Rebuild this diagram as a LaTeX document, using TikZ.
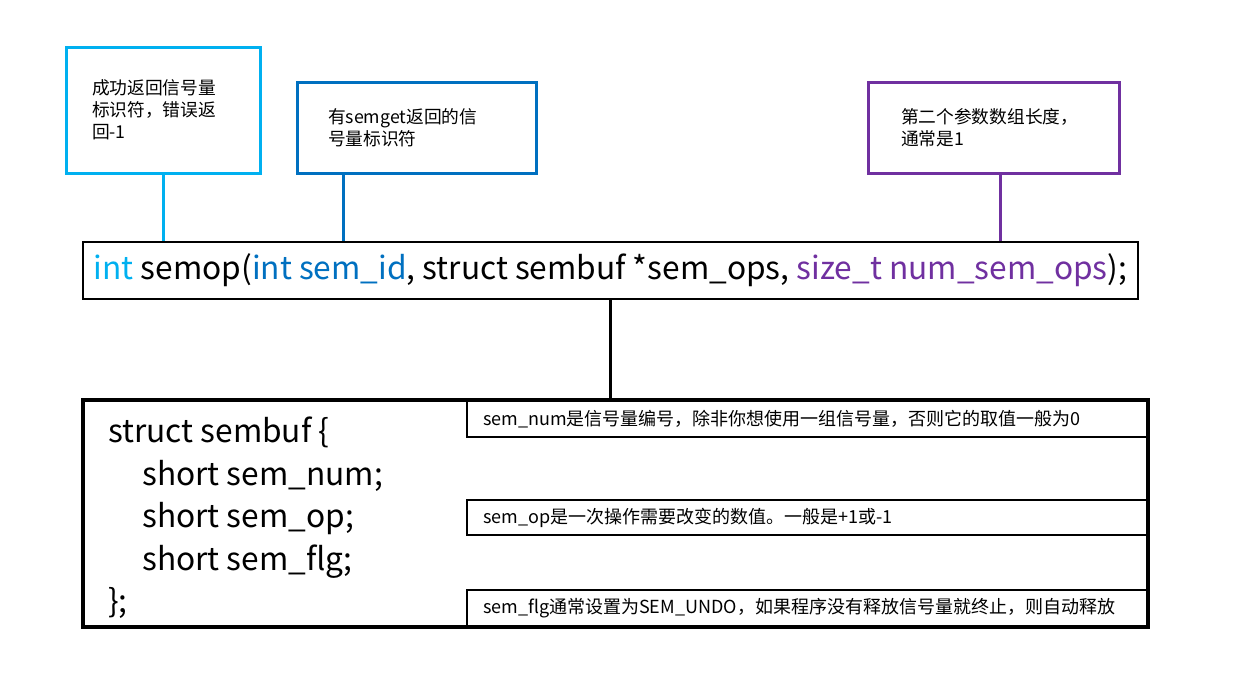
\documentclass[tikz,border=0pt]{standalone}
\usepackage{fontspec}
\setmainfont{Noto Sans CJK SC}
\usetikzlibrary{positioning}

\definecolor{retblue}{RGB}{0,176,240}
\definecolor{idblue}{RGB}{0,112,192}
\definecolor{numpurple}{RGB}{112,48,160}

\tikzset{
  tipbox/.style={draw, line width=2.25pt, align=left, inner ysep=0pt,
    font=\fontsize{13.3}{16.5}\selectfont},
  notebox/.style={draw, line width=1.1pt, align=left, inner xsep=12pt, inner ysep=0pt,
    text width=486pt, font=\fontsize{13.5}{15}\selectfont},
  codeline/.style={anchor=base west, inner sep=0pt, font=\fontsize{23.75}{28}\selectfont},
  link/.style={line width=2.25pt}
}

\begin{document}
\begin{tikzpicture}[x=0.75pt,y=0.75pt,yscale=-1,xscale=1]
\useasboundingbox (0,0) rectangle (1239,675);

% the three remarks above the prototype
\node [tipbox, draw=retblue, inner xsep=19.5pt, text width=106.5pt, minimum height=94.5pt] (ret) at (163,110)
  {成功返回信号量\\标识符，错误返\\回-1};
\node [tipbox, draw=idblue, inner xsep=23.25pt, text width=132.75pt, minimum height=68.25pt] (semid) at (416.5,127.5)
  {有semget返回的信\\号量标识符};
\node [tipbox, draw=numpurple, inner xsep=24.75pt, text width=138.75pt, minimum height=68.25pt] (nops) at (993.5,127.5)
  {第二个参数数组长度，\\通常是1};

% prototype
\node [draw, line width=1.5pt, minimum width=791.25pt, minimum height=42.75pt, inner sep=0pt,
  font=\fontsize{23.75}{28}\selectfont] (proto) at (610.5,270.5)
  {\textcolor{retblue}{int} semop(\textcolor{idblue}{int sem\_id}, struct sembuf *sem\_ops, \textcolor{numpurple}{size\_t num\_sem\_ops});};

\draw [link, retblue] (ret.south) -- (ret.south |- proto.north);
\draw [link, idblue] ([xshift=-54.4pt]semid.south) -- ([xshift=-54.4pt]semid.south |- proto.north);
\draw [link, numpurple] ([xshift=5.6pt]nops.south) -- ([xshift=5.6pt]nops.south |- proto.north);

% struct sembuf
\node [draw, line width=2.6pt, minimum width=798.75pt, minimum height=170.25pt, inner sep=0pt] (sembuf) at (615.5,513.5) {};
\draw [link] (proto.south) -- (proto.south |- sembuf.north);

\node [codeline] (c1) at (108,442) {struct sembuf \{};
\node [codeline] (c2) at (142,485) {short sem\_num;};
\node [codeline] (c3) at (142,527) {short sem\_op;};
\node [codeline] (c4) at (142,570) {short sem\_flg;};
\node [codeline] (c5) at (108,612) {\};};

\node [notebox, minimum height=27pt] (n1) at (807,419)
  {sem\_num是信号量编号，除非你想使用一组信号量，否则它的取值一般为0};
\node [notebox, minimum height=26.25pt] (n2) at (807,517.5)
  {sem\_op是一次操作需要改变的数值。一般是+1或-1};
\node [notebox, minimum height=27.75pt] (n3) at (807,608.5)
  {sem\_flg通常设置为SEM\_UNDO，如果程序没有释放信号量就终止，则自动释放};
\end{tikzpicture}
\end{document}
